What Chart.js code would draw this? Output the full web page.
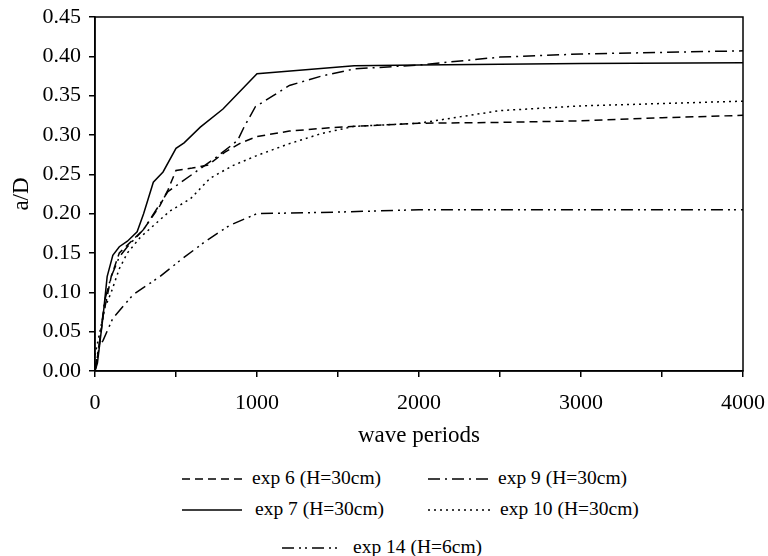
<!DOCTYPE html>
<html>
<head>
<meta charset="utf-8">
<script src="https://cdn.jsdelivr.net/npm/chart.js@4/dist/chart.umd.min.js"></script>
<style>
  html, body { margin: 0; padding: 0; background: #fff; }
  #wrap { position: relative; width: 768px; height: 556px; font-family: "Liberation Serif", "DejaVu Serif", serif; }
  #chartBox { position: absolute; left: 0; top: 0; width: 768px; height: 450px; }
  .lg-item { position: absolute; font-size: 19.5px; color: #000; white-space: nowrap; line-height: 22px; }
  .lg-item svg { position: absolute; }
</style>
</head>
<body>
<div id="wrap">
  <div id="chartBox"><canvas id="c"></canvas></div>
  <div id="legend"></div>
</div>
<script>
// values (x = wave periods, y = a/D)
const exp6X  = [0, 25, 50, 100, 150, 200, 300, 400, 450, 500, 600, 700, 800, 900, 1000, 1200, 1500, 2000, 2500, 3000, 3500, 4000];
const exp6Y  = [0, 0.03, 0.07, 0.12, 0.15, 0.16, 0.18, 0.21, 0.23, 0.255, 0.258, 0.262, 0.278, 0.29, 0.298, 0.305, 0.31, 0.315, 0.316, 0.318, 0.322, 0.325];

const exp7X  = [0, 15, 50, 75, 110, 150, 200, 260, 300, 360, 420, 500, 550, 650, 790, 1000, 1300, 1600, 2000, 3000, 4000];
const exp7Y  = [0, 0.01, 0.07, 0.12, 0.147, 0.158, 0.165, 0.177, 0.2, 0.24, 0.253, 0.283, 0.29, 0.31, 0.333, 0.378, 0.383, 0.388, 0.389, 0.391, 0.392];

const exp9X  = [0, 30, 60, 100, 150, 200, 300, 450, 600, 750, 880, 920, 990, 1100, 1200, 1400, 1600, 2000, 2500, 3000, 3500, 4000];
const exp9Y  = [0, 0.04, 0.09, 0.12, 0.145, 0.158, 0.18, 0.228, 0.25, 0.272, 0.293, 0.31, 0.336, 0.35, 0.363, 0.375, 0.384, 0.389, 0.399, 0.403, 0.405, 0.407];

const exp10X = [0, 30, 60, 100, 150, 200, 280, 340, 460, 590, 710, 850, 1000, 1200, 1400, 1600, 2000, 2500, 3000, 3500, 4000];
const exp10Y = [0.02, 0.05, 0.08, 0.1, 0.13, 0.15, 0.17, 0.181, 0.203, 0.219, 0.245, 0.261, 0.274, 0.289, 0.302, 0.311, 0.315, 0.331, 0.337, 0.34, 0.343];

const exp14X = [0, 25, 50, 110, 235, 400, 540, 690, 830, 1000, 1500, 2000, 3000, 4000];
const exp14Y = [0, 0.03, 0.039, 0.067, 0.097, 0.12, 0.143, 0.166, 0.185, 0.2, 0.202, 0.205, 0.205, 0.205];

const seriesNames = ["exp 6 (H=30cm)", "exp 9 (H=30cm)", "exp 7 (H=30cm)", "exp 10 (H=30cm)", "exp 14 (H=6cm)"];
const xTicks = [0, 1000, 2000, 3000, 4000];

const FONT = '"Liberation Serif", "DejaVu Serif", serif';
const dashes = {
  exp6: [8, 5],
  exp9: [12, 5, 2, 5],
  exp7: [],
  exp10: [2, 4],
  exp14: [12, 5, 2, 4, 2, 5]
};

function pts(xs, ys) { return xs.map((x, i) => ({ x: x, y: ys[i] })); }
function ds(label, xs, ys, dash) {
  return { label: label, data: pts(xs, ys), borderColor: '#000', borderWidth: 1.5, borderDash: dash,
           pointRadius: 0, fill: false, tension: 0 };
}

// frame around the plot (top + right edges)
const framePlugin = {
  id: 'frame',
  afterDatasetsDraw(chart) {
    const a = chart.chartArea, ctx = chart.ctx;
    ctx.save();
    ctx.strokeStyle = '#000'; ctx.lineWidth = 1.5; ctx.setLineDash([]);
    ctx.strokeRect(a.left, a.top, a.right - a.left, a.bottom - a.top);
    ctx.restore();
  }
};

new Chart(document.getElementById('c'), {
  type: 'line',
  data: {
    datasets: [
      ds(seriesNames[0], exp6X, exp6Y, dashes.exp6),
      ds(seriesNames[1], exp9X, exp9Y, dashes.exp9),
      ds(seriesNames[2], exp7X, exp7Y, dashes.exp7),
      ds(seriesNames[3], exp10X, exp10Y, dashes.exp10),
      ds(seriesNames[4], exp14X, exp14Y, dashes.exp14)
    ]
  },
  options: {
    responsive: true, maintainAspectRatio: false, animation: false, devicePixelRatio: 1,
    layout: { padding: { top: 17, right: 25, left: 0, bottom: 0 } },
    plugins: { legend: { display: false }, tooltip: { enabled: false } },
    scales: {
      x: {
        type: 'linear', min: 0, max: 4000,
        afterFit: s => { s.height = 79; s.paddingLeft = 0; s.paddingRight = 0; },
        border: { display: true, color: '#000', width: 1.5 },
        grid: { drawOnChartArea: false, drawTicks: true, tickLength: 6, color: '#000', lineWidth: 1.5 },
        ticks: { stepSize: 500, autoSkip: false, maxRotation: 0, padding: 13, color: '#000',
                 font: { family: FONT, size: 22 },
                 callback: v => xTicks.includes(v) ? String(v) : '' },
        title: { display: true, text: 'wave periods', color: '#000', font: { family: FONT, size: 23 }, padding: 0 }
      },
      y: {
        min: 0, max: 0.45,
        afterFit: s => { s.width = 95; s.paddingTop = 0; s.paddingBottom = 0; },
        border: { display: true, color: '#000', width: 1.5 },
        grid: { drawOnChartArea: false, drawTicks: true, tickLength: 6, color: '#000', lineWidth: 1.5 },
        ticks: { stepSize: 0.05, padding: 8, color: '#000', font: { family: FONT, size: 22 },
                 callback: v => v.toFixed(2) },
        title: { display: true, text: 'a/D', color: '#000', font: { family: FONT, size: 23 }, padding: { top: 8, bottom: 0 } }
      }
    }
  },
  plugins: [framePlugin]
});

// legend laid out like the original figure
const legendSpots = [
  { name: seriesNames[0], dash: dashes.exp6,  sx: 182, sw: 60, tx: 252, y: 479 },
  { name: seriesNames[1], dash: dashes.exp9,  sx: 428, sw: 62, tx: 498, y: 479 },
  { name: seriesNames[2], dash: dashes.exp7,  sx: 182, sw: 60, tx: 255, y: 510 },
  { name: seriesNames[3], dash: dashes.exp10, sx: 428, sw: 62, tx: 500, y: 510 },
  { name: seriesNames[4], dash: dashes.exp14, sx: 282, sw: 60, tx: 353, y: 548 }
];
const lg = document.getElementById('legend');
legendSpots.forEach(it => {
  const sample = document.createElement('div');
  sample.className = 'lg-item';
  sample.style.left = it.sx + 'px'; sample.style.top = (it.y - 3) + 'px';
  sample.innerHTML = `<svg width="${it.sw}" height="6"><line x1="0" y1="3" x2="${it.sw}" y2="3" stroke="#000" stroke-width="1.5" stroke-dasharray="${it.dash.length ? it.dash.join(' ') : 'none'}"/></svg>`;
  lg.appendChild(sample);
  const txt = document.createElement('div');
  txt.className = 'lg-item';
  txt.style.left = it.tx + 'px'; txt.style.top = (it.y - 12) + 'px';
  txt.textContent = it.name;
  lg.appendChild(txt);
});
</script>
</body>
</html>
